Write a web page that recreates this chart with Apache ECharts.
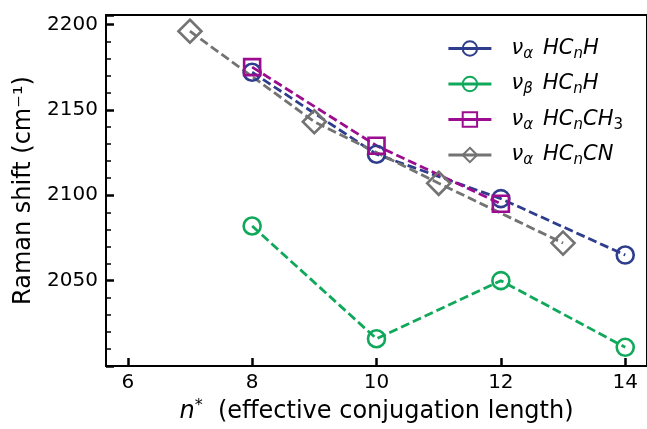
<!DOCTYPE html>
<html>
<head>
<meta charset="utf-8">
<script src="https://cdn.jsdelivr.net/npm/echarts@6/dist/echarts.min.js"></script>
<style>
  html, body { margin: 0; padding: 0; background: #fff; }
  #chart { width: 647px; height: 429px; }
</style>
</head>
<body>
<div id="chart"></div>
<script>
// x positions (n*) and Raman shifts
const nH = [8, 10, 12, 14];
const alphaHCnH = [2172, 2124, 2098, 2065];
const betaHCnH = [2082, 2016, 2050, 2011];
const nCH3 = [8, 10, 12];
const alphaHCnCH3 = [2175, 2129, 2095];
const nCN = [7, 9, 11, 13];
const alphaHCnCN = [2196, 2143, 2107, 2072];

const legendText = [
  '{p|}{i|ν}{s|α}{g|}{i|HC}{s|n}{i|H}',
  '{p|}{i|ν}{s|β}{g|}{i|HC}{s|n}{i|H}',
  '{p|}{i|ν}{s|α}{g|}{i|HC}{s|n}{i|CH}{r|3}',
  '{p|}{i|ν}{s|α}{g|}{i|HC}{s|n}{i|CN}'
];
const names = ['a_HCnH', 'b_HCnH', 'a_HCnCH3', 'a_HCnCN'];

const FONT = 'DejaVu Sans';

function pairs(xs, ys) {
  return xs.map((x, i) => [x, ys[i]]);
}

function mkSeries(name, data, color, symbol, size) {
  return {
    name: name,
    type: 'line',
    data: data,
    symbol: symbol,
    symbolSize: size,
    showAllSymbol: true,
    color: color,
    lineStyle: { color: color, width: 2.8, type: [9, 4] },
    itemStyle: { color: 'rgba(255,255,255,0)', borderColor: color, borderWidth: 2.6 },
    emphasis: { disabled: true },
    z: 3
  };
}

const chart = echarts.init(document.getElementById('chart'));
chart.setOption({
  backgroundColor: '#fff',
  animation: false,
  grid: {
    left: 106, right: -1, top: 15, bottom: 61,
    show: true, borderColor: '#000', borderWidth: 2
  },
  legend: {
    orient: 'vertical',
    left: 442,
    top: 33,
    itemWidth: 43,
    itemHeight: 18,
    itemGap: 12,
    lineStyle: { type: 'solid', width: 2.8 },
    data: names,
    formatter: (name) => legendText[names.indexOf(name)],
    textStyle: {
      fontFamily: FONT,
      color: '#000',
      rich: {
        p: { width: 15 },
        g: { width: 10 },
        i: { fontFamily: FONT, fontStyle: 'italic', fontSize: 21, lineHeight: 26, color: '#000' },
        s: { fontFamily: FONT, fontStyle: 'italic', fontSize: 15, lineHeight: 12, verticalAlign: 'bottom', color: '#000' },
        r: { fontFamily: FONT, fontSize: 15, lineHeight: 12, verticalAlign: 'bottom', color: '#000' }
      }
    }
  },
  xAxis: {
    type: 'value',
    min: 5.65,
    max: 14.35,
    splitNumber: 4,
    name: '{i|n}{sup|*}  (effective conjugation length)',
    nameLocation: 'middle',
    nameGap: 31,
    nameTextStyle: {
      fontFamily: FONT, fontSize: 24, color: '#000',
      rich: {
        i: { fontFamily: FONT, fontStyle: 'italic', fontSize: 24, lineHeight: 28, color: '#000' },
        sup: { fontFamily: FONT, fontSize: 16, lineHeight: 16, verticalAlign: 'top', color: '#000' }
      }
    },
    splitLine: { show: false },
    axisLine: { lineStyle: { color: '#000', width: 2 } },
    axisTick: { inside: true, length: 8, lineStyle: { color: '#000', width: 2.5 } },
    axisLabel: {
      fontFamily: FONT, fontSize: 20, color: '#000', margin: 7,
      showMinLabel: false, showMaxLabel: false,
      formatter: (v) => (Math.abs(v - Math.round(v)) < 1e-6 && Math.round(v) % 2 === 0) ? String(Math.round(v)) : ''
    }
  },
  yAxis: {
    type: 'value',
    min: 2000,
    max: 2205.5,
    interval: 50,
    name: 'Raman shift (cm⁻¹)',
    nameLocation: 'middle',
    nameGap: 66,
    nameTextStyle: { fontFamily: FONT, fontSize: 24, color: '#000' },
    splitLine: { show: false },
    axisLine: { lineStyle: { color: '#000', width: 2 } },
    axisTick: { inside: true, length: 8, lineStyle: { color: '#000', width: 2.5 } },
    minorTick: { show: true, splitNumber: 5, length: 5, lineStyle: { color: '#000', width: 1.5 } },
    axisLabel: {
      fontFamily: FONT, fontSize: 20, color: '#000', margin: 8,
      showMinLabel: false, showMaxLabel: false,
      formatter: (v) => (v % 50 === 0 ? String(v) : '')
    }
  },
  series: [
    mkSeries(names[0], pairs(nH, alphaHCnH), '#2e3d8c', 'circle', 17),
    mkSeries(names[1], pairs(nH, betaHCnH), '#10a85a', 'circle', 17),
    mkSeries(names[2], pairs(nCH3, alphaHCnCH3), '#9c0c90', 'rect', 16),
    mkSeries(names[3], pairs(nCN, alphaHCnCN), '#737373', 'diamond', 23)
  ]
});
</script>
</body>
</html>
